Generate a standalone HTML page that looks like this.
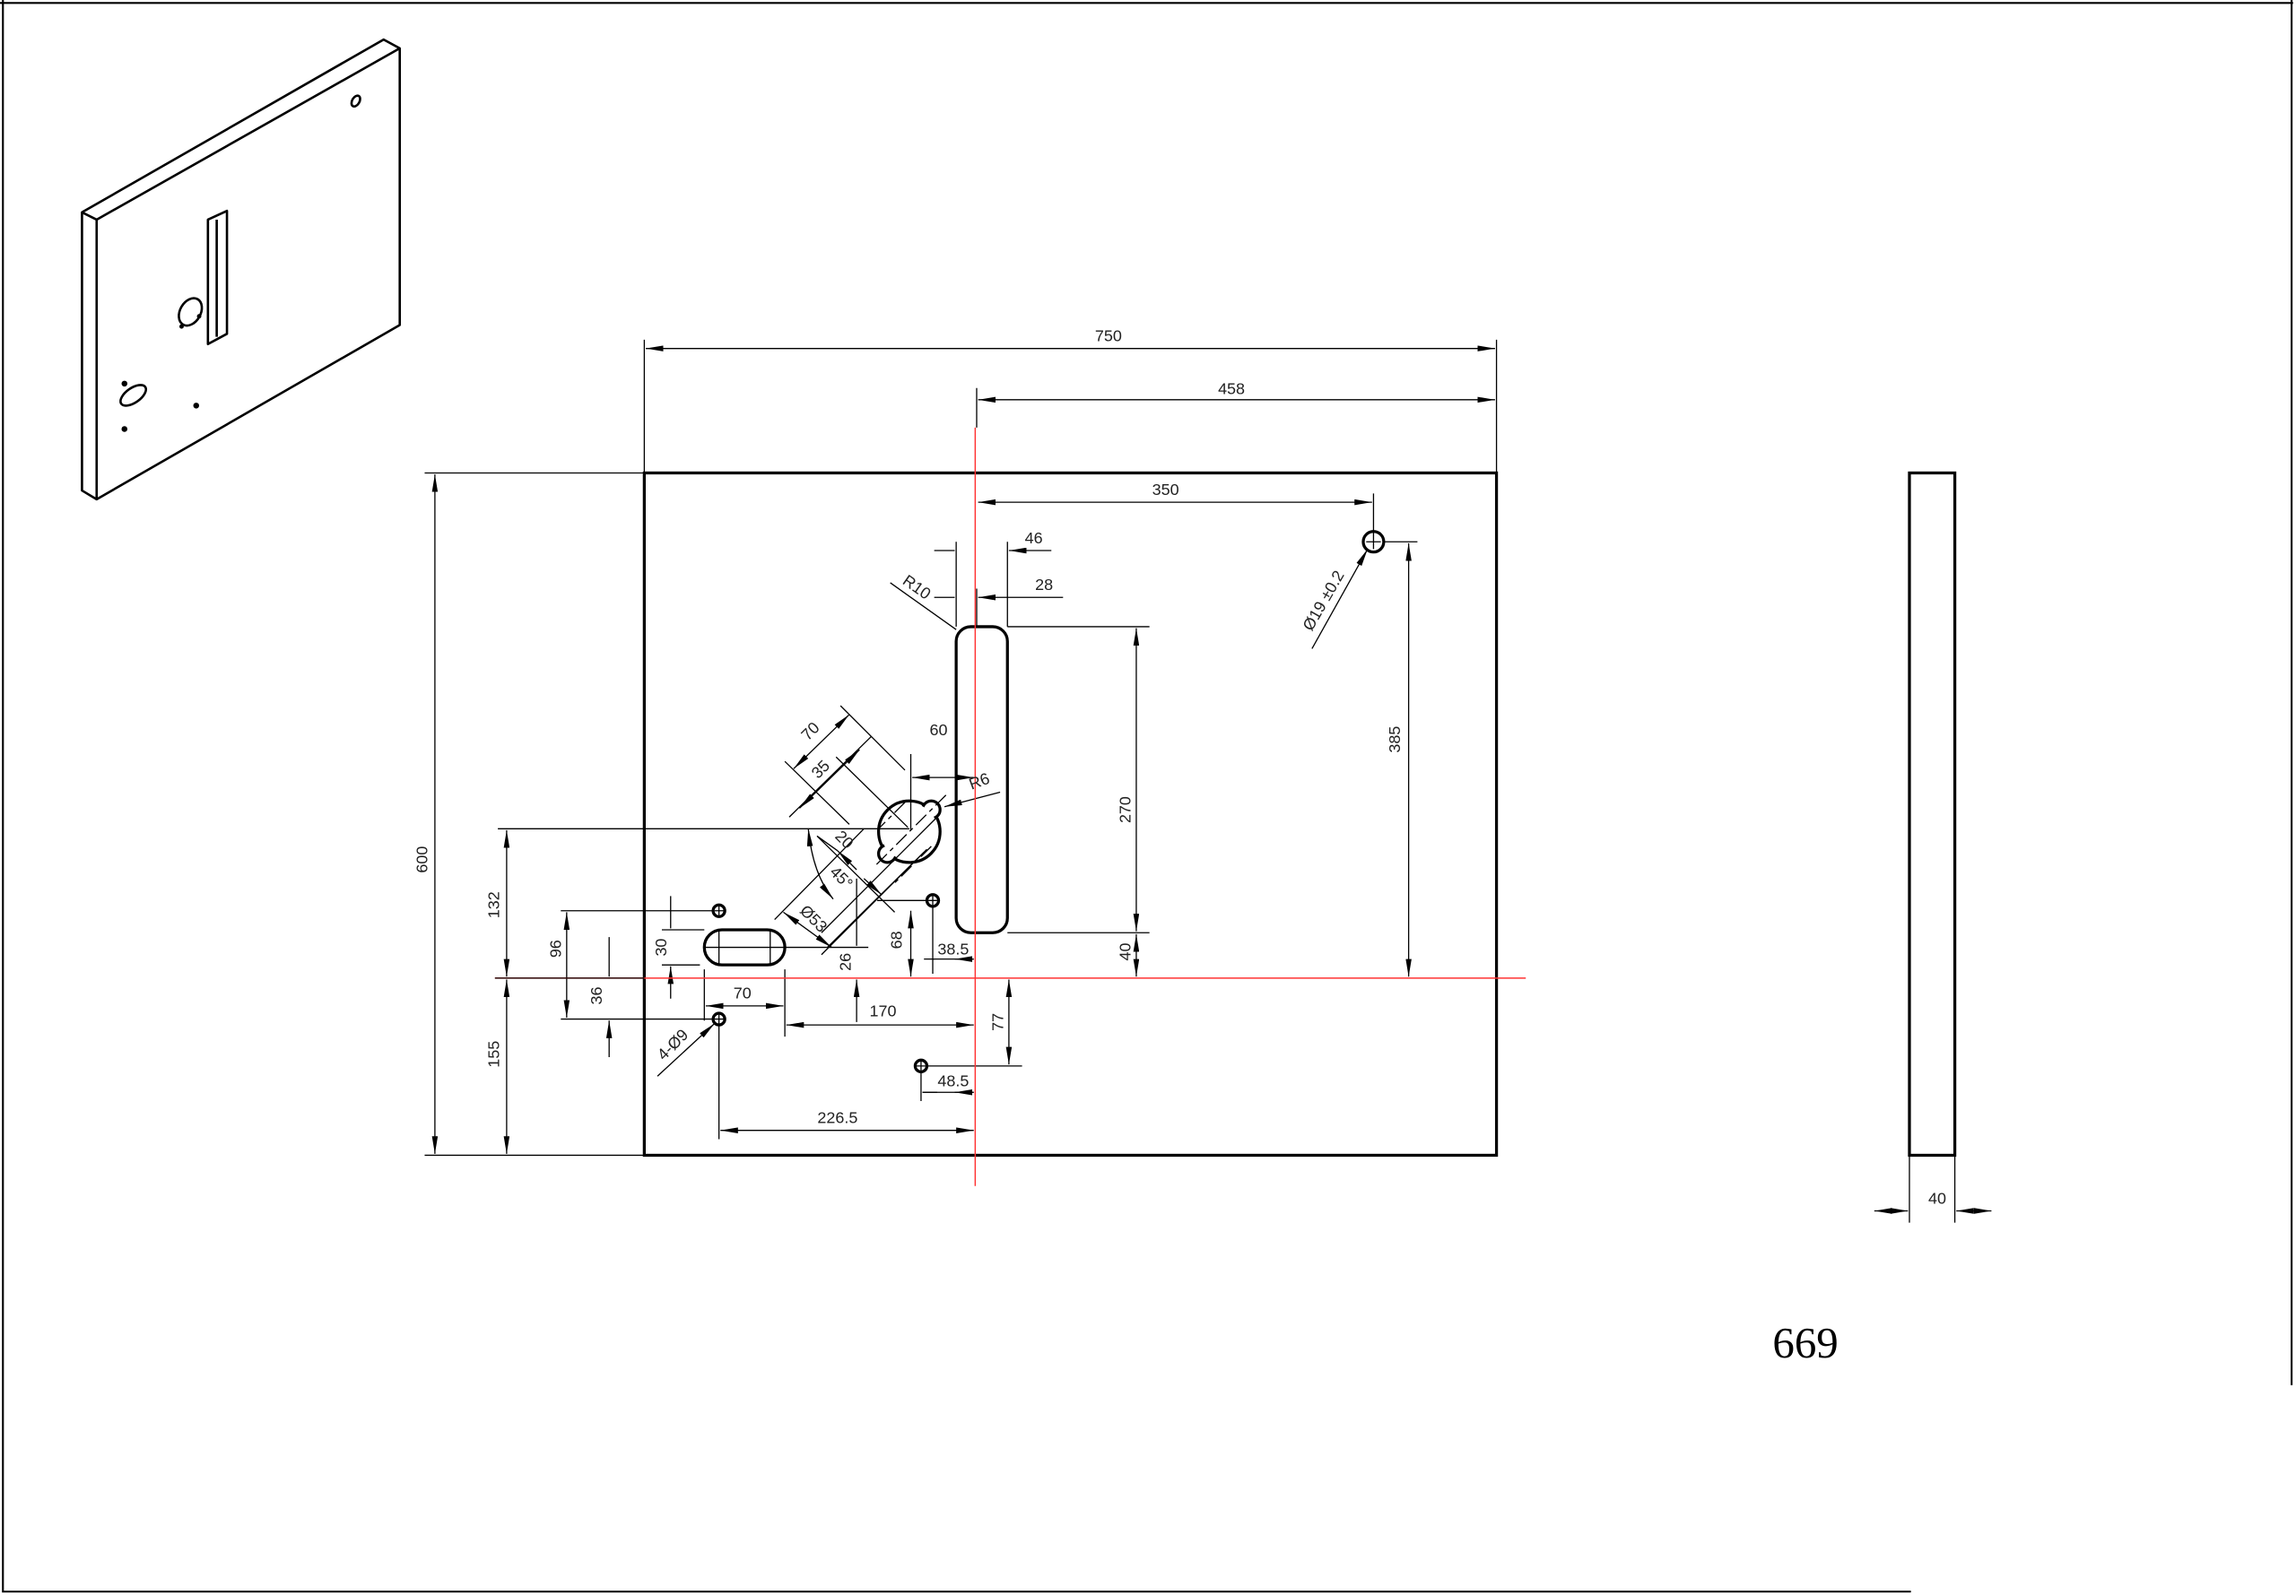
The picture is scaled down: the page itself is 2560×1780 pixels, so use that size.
<!DOCTYPE html>
<html><head><meta charset="utf-8"><style>
html,body{margin:0;padding:0;background:#fff;}
svg{display:block}
text{font-family:"Liberation Sans",sans-serif;font-size:11px;fill:#222}
</style></head><body>
<svg width="2560" height="1780" viewBox="0 0 1568 1090" preserveAspectRatio="none" xmlns="http://www.w3.org/2000/svg">
<defs>
<marker id="a" viewBox="0 0 12 4" refX="12" refY="2" markerWidth="12" markerHeight="4" markerUnits="userSpaceOnUse" orient="auto-start-reverse"><path d="M0,0 L12,2 L0,4z" fill="#000"/></marker>
</defs>
<g fill="none" stroke="#000">
<path d="M2,0 V1087 H1305 M0,2 H1566 M1565,0 V946" stroke-width="1.3"/>
<g stroke-width="1.6" stroke-linejoin="round">
<path d="M56,145 L262,27 L273,33 L273,222 L66,341 L56,335 Z"/>
<path d="M56,145 L66,150 L273,33 M66,150 V341"/>
<path d="M142,150 L155,144 L155,228 L142,235 Z M148,150 V230"/>
<ellipse cx="130" cy="213" rx="7" ry="10" transform="rotate(30 130 213)"/>
<ellipse cx="91" cy="270" rx="5" ry="10" transform="rotate(55 91 270)"/>
<ellipse cx="243" cy="69" rx="2.5" ry="4" transform="rotate(30 243 69)"/>
</g>
<g fill="#000" stroke="none"><circle cx="85" cy="262" r="2"/><circle cx="85" cy="293" r="2"/><circle cx="134" cy="277" r="2"/><circle cx="136" cy="216" r="1.5"/><circle cx="124" cy="223" r="1.5"/></g>
<rect x="440" y="323" width="582" height="466" stroke-width="2"/>
<rect x="653" y="428" width="35" height="209" rx="10" stroke-width="2"/>
<circle cx="938" cy="370" r="7" stroke-width="2"/>
<path d="M933,370 H943 M938,365 V375" stroke-width="0.8"/>
<rect x="481" y="635" width="55" height="24" rx="12" stroke-width="2"/>
<path d="M491,635 V659 M526,635 V659 M481,647 H536" stroke-width="0.8"/>
<!-- keyhole -->
<g stroke-width="2">
<circle cx="621" cy="568" r="21" fill="#fff"/>
<circle cx="636" cy="553" r="6" fill="#fff"/>
<circle cx="606" cy="583" r="6" fill="#fff"/>
<circle cx="621" cy="568" r="19.5" fill="#fff" stroke="none"/>
</g>
<path d="M646,543 L597,592 M636,578 L611,603 M618,548 L600,566" stroke-width="0.8" stroke-dasharray="10,3,3,3"/>
<g stroke-width="2"><circle cx="491" cy="622" r="4"/><circle cx="491" cy="696" r="4"/><circle cx="637" cy="615" r="4"/><circle cx="629" cy="728" r="4"/></g>
<path d="M488,622h6M491,619v6M488,696h6M491,693v6M634,615h6M637,612v6M626,728h6M629,725v6" stroke-width="0.8"/>
<rect x="1304" y="323" width="31" height="466" stroke-width="2"/>
<g stroke-width="0.8">
<path d="M440,232 V323 M1022,232 V323 M667,265 V292 M938,337 V365 M653,370 V428 M688,370 V428 M667,402 V428 M653,402 V428"/>
<path d="M945,370 H968 M688,428 H785 M688,637 H785 M622,515 V567 M290,323 H440 M290,789 H440 M340,566 H621 M383,622 H487 M383,696 H487 M452,635 H481 M452,659 H478 M536,647 H593 M599,615 H633 M637,619 V665 M481,662 V697 M536,662 V708 M491,700 V778 M629,732 V752 M633,728 H698 M1304,789 V835 M1335,789 V835"/>
<path d="M608,398 L653,430"/>
<path d="M896,443 L934,375" marker-end="url(#a)"/>
<path d="M683,541 L645,551" marker-end="url(#a)"/>
<path d="M449,735 L488,699" marker-end="url(#a)"/>
</g>
<g stroke-width="0.8" marker-start="url(#a)" marker-end="url(#a)">
<path d="M441,238 H1021"/>
<path d="M668,273 H1021"/>
<path d="M668,343 H937"/>
<path d="M962,371 V667"/>
<path d="M776,429 V636"/>
<path d="M776,638 V667"/>
<path d="M623,531 H665"/>
<path d="M297,324 V788"/>
<path d="M346,567 V667"/>
<path d="M346,669 V788"/>
<path d="M387,623 V695"/>
<path d="M482,687 H535"/>
<path d="M537,700 H665"/>
<path d="M492,772 H665"/>
<path d="M689,669 V727"/>
<path d="M1280,827 H1303"/>
<path d="M1336,827 H1360"/>
</g>
<g stroke-width="0.8">
<path d="M638,376 H652 M718,376 H689" marker-end="url(#a)"/>
<path d="M638,408 H652 M726,408 H668" marker-end="url(#a)"/>
<path d="M458,612 V634 M458,682 V660" marker-end="url(#a)"/>
<path d="M416,640 V667 M416,722 V697" marker-end="url(#a)"/>
<path d="M585,600 V646 M585,698 V669" marker-end="url(#a)"/>
<path d="M622,622 V667" marker-start="url(#a)" marker-end="url(#a)"/>
<path d="M631,655 H665 M630,746 H665"/>
<path d="M638,655 H637 M665,655 H652" marker-end="url(#a)"/>
<path d="M640,746 H630 M665,746 H652" marker-end="url(#a)"/>
<!-- angled dims -->
<path d="M574,482 L618,526 M536,520 L580,563"/>
<path d="M542,525 L580,488" marker-start="url(#a)" marker-end="url(#a)"/>
<path d="M571,517 L620,565 M539,558 L595,503"/>
<path d="M546,552 L587,512" marker-start="url(#a)" marker-end="url(#a)"/>
<path d="M639,559 L561,637 M631,582 L565,647 M558,571 L611,623"/>
<path d="M558,571 L572,581" />
<path d="M585,594 L572,581" marker-end="url(#a)"/>
<path d="M590,600 L602,611" marker-end="url(#a)"/>
<path d="M529,628 L590,566 M561,652 L633,580"/>
<path d="M535,623 L568,647" marker-start="url(#a)" marker-end="url(#a)"/>
<path d="M552,566 Q555,597 569,614" marker-start="url(#a)" marker-end="url(#a)"/>
</g>
<g stroke="#f33" stroke-width="0.9">
<path d="M666,292 V810"/>
<path d="M338,668 H1042"/>
</g>
<path d="M338,668 H440" stroke="#000" stroke-width="0.8"/>
</g>
<text x="757" y="233" text-anchor="middle">750</text>
<text x="841" y="269" text-anchor="middle">458</text>
<text x="796" y="338" text-anchor="middle">350</text>
<text x="706" y="371" text-anchor="middle">46</text>
<text x="713" y="403" text-anchor="middle">28</text>
<text x="641" y="502" text-anchor="middle">60</text>
<text x="507" y="682" text-anchor="middle">70</text>
<text x="603" y="694" text-anchor="middle">170</text>
<text x="651" y="652" text-anchor="middle">38.5</text>
<text x="651" y="742" text-anchor="middle">48.5</text>
<text x="572" y="767" text-anchor="middle">226.5</text>
<text x="1323" y="822" text-anchor="middle">40</text>
<g text-anchor="middle">
<text transform="translate(292,587) rotate(-90)">600</text>
<text transform="translate(341,618) rotate(-90)">132</text>
<text transform="translate(341,720) rotate(-90)">155</text>
<text transform="translate(383,648) rotate(-90)">96</text>
<text transform="translate(411,680) rotate(-90)">36</text>
<text transform="translate(455,647) rotate(-90)">30</text>
<text transform="translate(581,657) rotate(-90)">26</text>
<text transform="translate(616,642) rotate(-90)">68</text>
<text transform="translate(685,698) rotate(-90)">77</text>
<text transform="translate(772,553) rotate(-90)">270</text>
<text transform="translate(772,650) rotate(-90)">40</text>
<text transform="translate(956,505) rotate(-90)">385</text>
<text transform="translate(624,404) rotate(35)">R10</text>
<text transform="translate(670,537) rotate(-20)">R6</text>
<text transform="translate(907,412) rotate(-60)">Ø19 ±0.2</text>
<text transform="translate(556,502) rotate(-45)">70</text>
<text transform="translate(563,528) rotate(-45)">35</text>
<text transform="translate(574,576) rotate(45)">20</text>
<text transform="translate(572,602) rotate(45)">45°</text>
<text transform="translate(553,630) rotate(45)">Ø53</text>
<text transform="translate(462,716) rotate(-45)">4-Ø9</text>
</g>
<text x="1233" y="927" text-anchor="middle" style="font-family:'Liberation Serif',serif;font-size:30px;fill:#000">669</text>
</svg>
</body></html>
